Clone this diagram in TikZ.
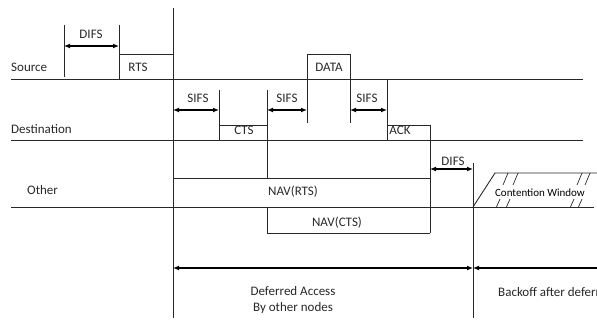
\documentclass[tikz,border=0pt]{standalone}
\usepackage{fontspec}
\setmainfont{Carlito}
\usetikzlibrary{arrows.meta}
\definecolor{inkgray}{RGB}{40,40,40}

\begin{document}
\begin{tikzpicture}[x=1pt, y=-1pt,
  lbl/.style={font=\fontsize{13}{15}\selectfont, text=inkgray, inner sep=0pt},
  ln/.style={line width=0.9pt, draw=inkgray},
  span/.style={{Latex[length=6pt,width=5pt]}-{Latex[length=6pt,width=5pt]},
               line width=1.6pt, draw=black},
  half/.style={{Latex[length=6pt,width=5pt]}-, line width=1.6pt, draw=black},
]
  \clip (0,0) rectangle (597,329);
  \useasboundingbox (0,0) rectangle (597,329);

  % time lines
  \node[lbl, anchor=west] (src) at (11,67) {Source};
  \node[lbl, anchor=west] (dst) at (11,129) {Destination};
  \node[lbl, anchor=west] (oth) at (27,190) {Other};
  \draw[ln] (11,79) -- (583,79);
  \draw[ln] (11,140) -- (583,140);
  \draw[ln] (11,207) -- (594,207);

  % frame edges
  \coordinate (t0) at (173,8);
  \coordinate (t0b) at (173,318);
  \coordinate (t1) at (473,163);
  \coordinate (t1b) at (473,318);
  \draw[ln] (t0) -- (t0b);
  \draw[ln] (t1) -- (t1b);

  % source side
  \draw[ln] (64,25) -- (64,77);
  \draw[ln] (119,25) -- (119,79);
  \draw[ln] (119,54) -- (173,54);
  \node[lbl] (rts) at (138,67) {RTS};
  \draw[ln] (307,123) -- (307,54) -- (350,54) -- (350,123);
  \node[lbl] (data) at (329,67) {DATA};

  % destination side
  \draw[ln] (219,90) -- (219,140);
  \draw[ln] (219,125) -- (267,125);
  \node[lbl] (cts) at (244,130) {CTS};
  \draw[ln] (267,90) -- (267,178);
  \draw[ln] (387,79) -- (387,140);
  \draw[ln] (387,125) -- (430,125) -- (430,233);
  \node[lbl] (ack) at (400,130) {ACK};

  % NAV boxes
  \draw[ln] (173,178) -- (430,178);
  \node[lbl] (navrts) at (293,192) {NAV(RTS)};
  \draw[ln] (267,207) -- (267,233) -- (430,233);
  \node[lbl] (navcts) at (337,223) {NAV(CTS)};

  % interframe spaces
  \coordinate (d0) at (64,46);
  \coordinate (d1) at (119,46);
  \draw[span] (d0) -- (d1);
  \node[lbl] (difs1) at (91,34) {DIFS};
  \coordinate (s0) at (173,110);
  \coordinate (s1) at (219,110);
  \draw[span] (s0) -- (s1);
  \node[lbl] (sifs1) at (198,98) {SIFS};
  \coordinate (s2) at (267,110);
  \coordinate (s3) at (307,110);
  \draw[span] (s2) -- (s3);
  \node[lbl] (sifs2) at (287,98) {SIFS};
  \coordinate (s4) at (350,110);
  \coordinate (s5) at (387,110);
  \draw[span] (s4) -- (s5);
  \node[lbl] (sifs3) at (367,98) {SIFS};
  \coordinate (e0) at (430,169);
  \coordinate (e1) at (473,169);
  \draw[span] (e0) -- (e1);
  \node[lbl] (difs2) at (453,161) {DIFS};

  % contention window
  \draw[ln] (473,207) -- (495,173) -- (597,173);
  \foreach \x in {0,10,74,82} {
    \draw[ln, line width=0.7pt] (508+\x,173) -- (503+\x,185);
    \draw[ln, line width=0.7pt] (500+\x,199) -- (496+\x,208);
  }
  \node[lbl, font=\fontsize{11}{12}\selectfont, text=black] (cw) at (540,193) {Contention Window};

  % deferred access
  \coordinate (f0) at (173,268);
  \coordinate (f1) at (473,268);
  \coordinate (f2) at (597,268);
  \draw[span] (f0) -- (f1);
  \draw[half] (f1) -- (f2);
  \node[lbl, align=center] (defer) at (293,300) {Deferred Access\\[1pt]By other nodes};
  \node[lbl, anchor=west] (backoff) at (498,292) {Backoff after deferral};
\end{tikzpicture}
\end{document}
